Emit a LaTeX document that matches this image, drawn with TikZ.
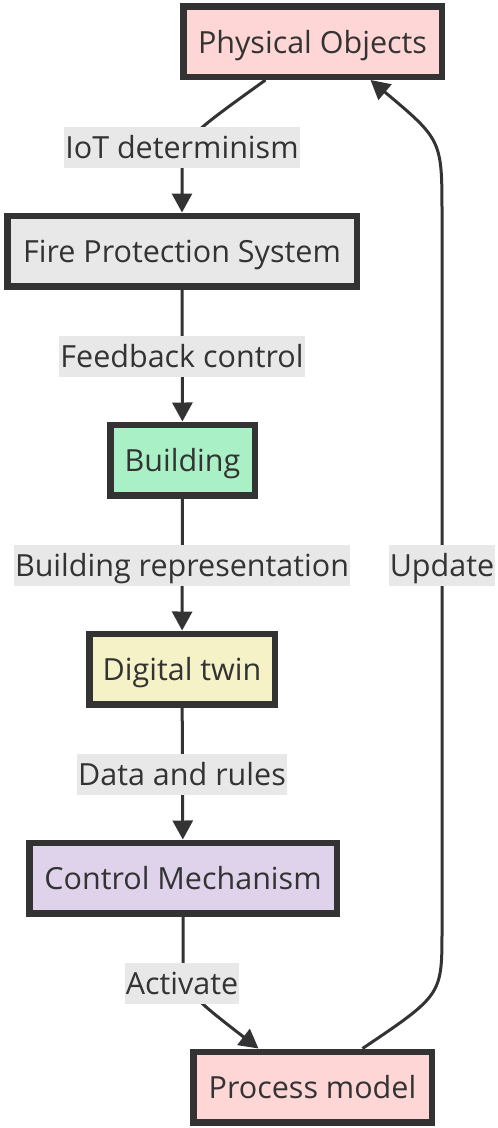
\documentclass[tikz,border=0pt]{standalone}
\usepackage{fontspec}
\setmainfont{Open Sans}
\usetikzlibrary{arrows.meta}
\definecolor{FlowDark}{HTML}{333333}
\definecolor{ObjPink}{HTML}{FFD6D6}
\definecolor{SysGray}{HTML}{E8E8E8}
\definecolor{BldGreen}{HTML}{AAF0C6}
\definecolor{TwinYellow}{HTML}{F5F2C8}
\definecolor{CtrlLilac}{HTML}{DFD3EC}
\definecolor{LabelGray}{HTML}{E8E8E8}

\begin{document}
\begin{tikzpicture}[x=1pt,y=-1pt,>={Triangle[length=19pt,width=20pt]}]
  \tikzstyle{stepbox}=[draw=FlowDark,line width=6.5pt,text=FlowDark,
    minimum height=70.5pt,inner sep=0pt,text height=29pt,text depth=6pt,
    font=\fontsize{30.5}{36}\selectfont]
  \tikzstyle{edgelabel}=[fill=LabelGray,text=FlowDark,inner xsep=1pt,
    inner ysep=0pt,minimum height=41pt,text height=28pt,text depth=6pt,
    font=\fontsize{30.5}{36}\selectfont]
  \tikzstyle{flow}=[->,line width=3pt,draw=FlowDark]
  \useasboundingbox (0,0) rectangle (498,1128);
  \node[stepbox,fill=ObjPink,minimum width=258.5pt] (phys) at (312.5,41.5) {Physical Objects};
  \node[stepbox,fill=SysGray,minimum width=349.5pt] (fps) at (182,251) {Fire Protection System};
  \node[stepbox,fill=BldGreen,minimum width=144.5pt] (bld) at (182.5,460) {Building};
  \node[stepbox,fill=TwinYellow,minimum width=185.5pt] (twin) at (182,669) {Digital twin};
  \node[stepbox,fill=CtrlLilac,minimum width=307.5pt] (ctrl) at (183,878) {Control Mechanism};
  \node[stepbox,fill=ObjPink,minimum width=238.5pt] (proc) at (312.5,1087) {Process model};
  \draw[flow] ([xshift=-47pt]phys.south) .. controls (182,140) .. (182,175) -- (fps.north);
  \draw[flow] (fps) -- (bld);
  \draw[flow] (bld) -- (twin);
  \draw[flow] (twin) -- (ctrl);
  \draw[flow] (ctrl.south) -- (183,945) .. controls (183,990) .. ([xshift=-54pt]proc.north);
  \draw[flow] ([xshift=50pt]proc.north) .. controls (442,995) .. (442,930) -- (442,215)
    .. controls (442,140) .. ([xshift=58pt]phys.south);
  \node[edgelabel] (iot) at (182,147) {IoT determinism};
  \node[edgelabel] (feed) at (182,356) {Feedback control};
  \node[edgelabel] (repr) at (182,565) {Building representation};
  \node[edgelabel] (rules) at (182,774) {Data and rules};
  \node[edgelabel] (act) at (182,983) {Activate};
  \node[edgelabel] (upd) at (442,565) {Update};
\end{tikzpicture}
\end{document}
